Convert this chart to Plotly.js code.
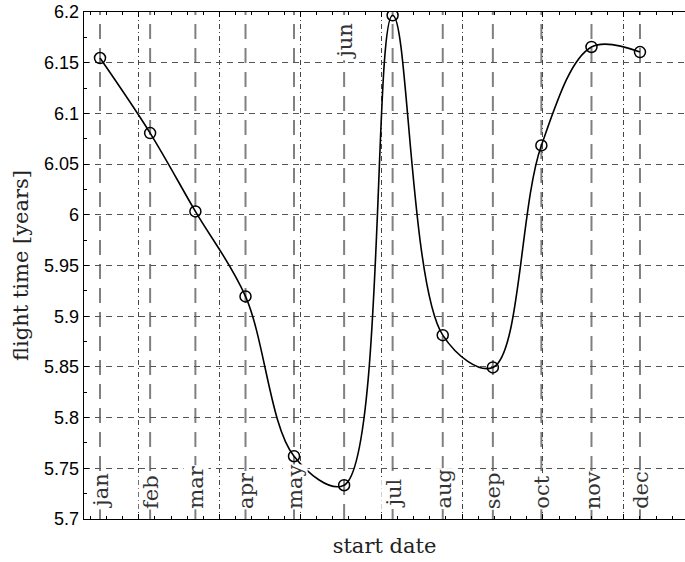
<!DOCTYPE html>
<html>
<head>
<meta charset="utf-8">
<script src="https://cdn.plot.ly/plotly-3.0.1.min.js"></script>
<style>
  html, body { margin: 0; padding: 0; background: #ffffff; }
  #chart { width: 685px; height: 562px; }
</style>
</head>
<body>
<div id="chart"></div>
<script>
// Month names and their day-of-year (start of month, 2019)
const monthLabels = ['jan', 'feb', 'mar', 'apr', 'may', 'jun', 'jul', 'aug', 'sep', 'oct', 'nov', 'dec'];
const monthDays = [1, 32, 60, 91, 121, 152, 182, 213, 244, 274, 305, 335];
// Flight time [years] for each start date
const flightTime = [6.1546, 6.0806, 6.0033, 5.9195, 5.7619, 5.7333, 6.1967, 5.8813, 5.8495, 6.0684, 6.1655, 6.1605];
// Labels drawn at the top instead of the bottom
const topLabels = ['jun'];
// Y tick labels
const yTickVals = [5.7, 5.75, 5.8, 5.85, 5.9, 5.95, 6.0, 6.05, 6.1, 6.15, 6.2];
const yTickText = ['5.7', '5.75', '5.8', '5.85', '5.9', '5.95', '6', '6.05', '6.1', '6.15', '6.2'];

const serif = 'DejaVu Serif, serif';

const trace = {
  x: monthDays,
  y: flightTime,
  type: 'scatter',
  mode: 'lines+markers',
  line: { color: '#000000', width: 1.6, shape: 'spline', smoothing: 1.0 },
  marker: { symbol: 'circle-open', size: 11, color: '#000000', line: { width: 1.5, color: '#000000' } },
  hoverinfo: 'skip',
  showlegend: false
};

const shapes = monthDays.map(d => ({
  type: 'line', xref: 'x', yref: 'paper',
  x0: d, x1: d, y0: 0, y1: 1,
  line: { color: '#808080', width: 2, dash: '15px,9px' },
  layer: 'between'
}));

const annotations = monthLabels.map((m, i) => {
  const atTop = topLabels.includes(m);
  return {
    x: monthDays[i], xref: 'x', yref: 'paper',
    y: atTop ? 0.98 : 0.018,
    yanchor: atTop ? 'top' : 'bottom',
    xanchor: 'center',
    text: m, textangle: -90, showarrow: false,
    font: { family: serif, size: 21, color: '#333333' },
    bgcolor: '#ffffff', borderpad: 0, xshift: 1
  };
});

const layout = {
  width: 685, height: 562,
  margin: { l: 84, r: 0, t: 12, b: 43, pad: 0 },
  paper_bgcolor: '#ffffff', plot_bgcolor: '#ffffff',
  showlegend: false,
  xaxis: {
    range: [-8.9, 362.85],
    tick0: 25, dtick: 50, tickmode: 'linear',
    showticklabels: false,
    ticks: 'inside', ticklen: 5, tickwidth: 1, tickcolor: '#000000',
    minor: { ticks: 'inside', ticklen: 3, tickwidth: 1, tickcolor: '#000000', dtick: 10, tick0: 25, showgrid: false },
    showline: true, linecolor: '#000000', linewidth: 1.3, mirror: 'ticks',
    showgrid: true, gridcolor: '#444444', gridwidth: 1, griddash: '5px,3px,1px,3px',
    zeroline: false,
    title: { text: 'start date', font: { family: serif, size: 21, color: '#222222' }, standoff: 19 }
  },
  yaxis: {
    range: [5.7, 6.2],
    tickmode: 'array',
    tickvals: yTickVals,
    ticktext: yTickText,
    tickfont: { family: 'Liberation Sans, Arial, sans-serif', size: 18, color: '#000000' },
    ticks: 'inside', ticklen: 5, tickwidth: 1, tickcolor: '#000000',
    minor: { ticks: 'inside', ticklen: 3, tickwidth: 1, tickcolor: '#000000', dtick: 0.025, tick0: 5.7, showgrid: false },
    showline: true, linecolor: '#000000', linewidth: 1.3, mirror: false,
    showgrid: true, gridcolor: '#555555', gridwidth: 1, griddash: '6px,5px',
    zeroline: false,
    title: { text: 'flight time [years]', font: { family: serif, size: 21, color: '#222222' }, standoff: 9 }
  },
  shapes: shapes,
  annotations: annotations
};

Plotly.newPlot('chart', [trace], layout, { displayModeBar: false, staticPlot: true });
</script>
</body>
</html>
